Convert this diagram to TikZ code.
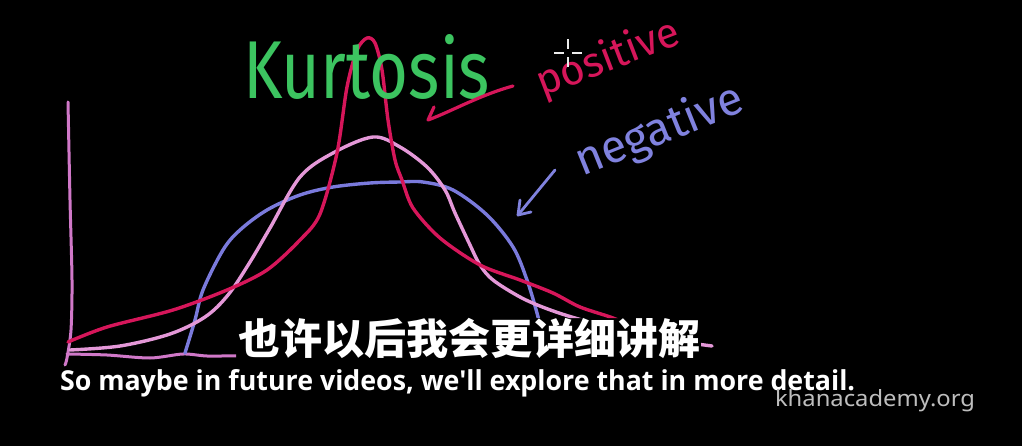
\documentclass[tikz,border=0pt]{standalone}
\usepackage{fontspec}
\usepackage{graphicx}
\newfontfamily\cjk{Noto Sans CJK SC}
\newfontfamily\subfont{Open Sans}
\newfontfamily\handfont{Fira Sans}
\newfontfamily\wmfont{Noto Sans}
\definecolor{kgreen}{RGB}{60,196,96}
\definecolor{kred}{RGB}{214,22,90}
\definecolor{kpink}{RGB}{228,152,216}
\definecolor{kblue}{RGB}{122,122,220}
\definecolor{kaxis}{RGB}{208,120,200}
\definecolor{knegtext}{RGB}{128,130,222}
\definecolor{kwm}{RGB}{190,190,190}
\tikzset{
  curve/.style={line width=3.4pt, line cap=round, line join=round},
  pen/.style={line width=3.2pt, line cap=round, line join=round},
  txt/.style={inner sep=0pt, outer sep=0pt, anchor=base west},
}
\begin{document}
\begin{tikzpicture}[x=1pt, y=-1pt]
\fill[black] (0,0) rectangle (1022,446);
\useasboundingbox (0,0) rectangle (1022,446);

\begin{scope}[even odd rule]
% hide the strokes that lie under the Chinese subtitle
\clip (0,0) rectangle (1022,446) (236,318) rectangle (701,360);

% axes
\draw[kaxis, pen, line width=3pt] plot[smooth, tension=0.5] coordinates {(68,102) (70,200) (72,280) (71,330) (67,358) (65,365)};
\draw[kaxis, pen, line width=3pt] plot[smooth, tension=0.5] coordinates {(67,354) (107,355) (150,358) (183,354) (207,356) (240,356) (300,358) (400,357) (500,358) (580,358) (640,358)};

% negative (blue) curve
\draw[kblue, curve] plot[smooth, tension=0.55] coordinates {(185,353) (195,320) (203,290) (223,250) (240,230) (267,210) (300,195) (333,187) (370,183) (400,182) (423,182) (453,190) (487,215) (513,247) (527,280) (537,313) (541,330)};

% normal (pink) curve
\draw[kpink, curve] plot[smooth, tension=0.55] coordinates {(70,350) (120,346) (170,334) (205,317) (228,295) (250,262) (270,228) (300,177) (333,153) (373,137) (400,147) (427,167) (445,190) (455,213) (470,245) (480,265) (493,280) (520,297) (545,308) (575,318) (620,330) (670,340) (712,346)};

% positive (red) curve
\draw[kred, curve] plot[smooth, tension=0.5] coordinates {(68,342) (107,327) (173,310) (227,290) (267,270) (300,240) (320,214) (337,153) (347,87) (357,50) (367,38) (375,43) (382,70) (388,120) (395,160) (402,180) (413,208) (440,238) (480,265) (520,280) (553,293) (580,307) (613,318) (640,330) (660,340)};
\end{scope}

% title
\node[txt, text=kgreen] (title) at (243,99) {\resizebox{247pt}{64pt}{\handfont Kurtosis}};

% positive label and arrow
\node[txt, text=kred, rotate=21] (pos) at (542,97) {\resizebox{151pt}{!}{\handfont positive}};
\coordinate (ra1) at (513,86);
\coordinate (ra2) at (428,120);
\coordinate (ra3) at (434,107);
\draw[kred, pen] (ra1) .. controls (480,95) and (450,112) .. (ra2) -- (ra3);

% negative label and arrow
\node[txt, text=knegtext, rotate=22] (neg) at (582,177) {\resizebox{178pt}{!}{\handfont negative}};
\coordinate (ba1) at (555,170);
\coordinate (ba2) at (518,215);
\coordinate (ba3) at (520,200);
\coordinate (ba4) at (531,212);
\draw[knegtext, pen, line width=2.8pt] (ba1) -- (ba2);
\draw[knegtext, pen, line width=2.8pt] (ba3) -- (ba2) -- (ba4);

% cursor crosshair
\coordinate (cross) at (568,53);
\draw[white!85!gray, line width=1.2pt] ([xshift=-14]cross) -- ([xshift=-4]cross) ([xshift=4]cross) -- ([xshift=14]cross) ([yshift=-14]cross) -- ([yshift=-4]cross) ([yshift=4]cross) -- ([yshift=14]cross);

% subtitles
\node[txt, text=white] (cn) at (238,354) {\cjk\bfseries\fontsize{42pt}{42pt}\selectfont 也许以后我会更详细讲解};
\node[txt, text=white] (en) at (60,390) {\resizebox{795pt}{21pt}{\subfont\bfseries So maybe in future videos, we'll explore that in more detail.}};

% watermark
\node[txt, text=kwm] (wm) at (775,406) {\resizebox{200pt}{17pt}{\wmfont khanacademy.org}};
\end{tikzpicture}
\end{document}
